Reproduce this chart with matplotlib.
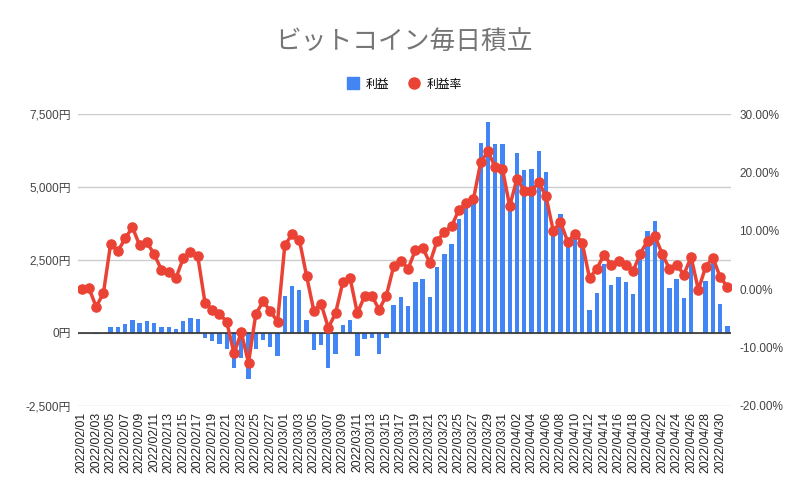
import numpy as np
import pandas as pd
import matplotlib
matplotlib.use('Agg')
import matplotlib.pyplot as plt
from matplotlib.lines import Line2D
from matplotlib.ticker import FuncFormatter

plt.rcParams['font.family'] = ['Liberation Sans', 'Noto Sans CJK JP', 'DejaVu Sans']

# 2022/02/01 から毎日
dates = pd.date_range('2022-02-01', periods=90, freq='D')
date_labels = [d.strftime('%Y/%m/%d') for d in dates]

# 利益 (円)
profit = [0, 0, -30, -10, 206, 206, 308, 445, 343, 411,
          343, 206, 206, 137, 411, 514, 480, -171, -274, -377,
          -548, -1199, -856, -1576, -548, -228, -480, -799, 1279, 1622,
          1485, 457, -594, -423, -1199, -719, 286, 457, -799, -206,
          -171, -719, -171, 971, 1233, 936, 1747, 1861, 1233, 2261,
          2707, 3049, 3906, 4283, 4600, 6509, 7229, 6475, 6475, 4500,
          6167, 5573, 5618, 6224, 5515, 3500, 4077, 2992, 3350, 2970,
          777, 1370, 2364, 1644, 1907, 1736, 1336, 2547, 3490, 3840,
          2650, 1540, 1855, 1195, 2500, 0, 1793, 2550, 1005, 240]

# 利益率 (%)
rate = [0.0, 0.2, -3.0, -0.7, 7.8, 6.5, 8.7, 10.6, 7.5, 8.0,
        6.0, 3.3, 3.0, 1.9, 5.3, 6.3, 5.7, -2.3, -3.5, -4.2,
        -5.6, -11.0, -7.4, -12.6, -4.3, -2.1, -3.7, -5.6, 7.5, 9.4,
        8.5, 2.3, -3.7, -2.5, -6.6, -4.1, 1.2, 1.9, -4.1, -1.2,
        -1.1, -3.5, -1.1, 3.9, 4.9, 3.5, 6.7, 7.1, 4.5, 8.3,
        9.8, 10.8, 13.6, 14.7, 15.4, 21.7, 23.6, 20.9, 20.6, 14.2,
        18.9, 16.9, 16.8, 18.3, 15.9, 10.0, 11.5, 8.1, 9.5, 7.9,
        1.9, 3.5, 5.9, 4.1, 4.8, 4.2, 3.1, 6.1, 8.3, 9.1,
        6.1, 3.5, 4.2, 2.5, 5.5, -0.1, 3.8, 5.4, 2.1, 0.4]

blue = '#4285F4'
red = '#EA4335'

fig = plt.figure(figsize=(8.09, 4.99), dpi=100)
ax = fig.add_axes([78 / 809, 1 - 406 / 499, (731 - 78) / 809, (406 - 114) / 499])
ax2 = ax.twinx()

x = np.arange(len(dates))
ax.bar(x, profit, width=0.6, color=blue, zorder=2)
ax2.plot(x, rate, color=red, lw=2.5, marker='o', ms=6.6, zorder=3)

ax.set_xlim(-0.5, len(dates) - 0.5)
ax.set_ylim(-2500, 7500)
ax.set_yticks([-2500, 0, 2500, 5000, 7500])
ax.yaxis.set_major_formatter(FuncFormatter(lambda v, p: '{:,.0f}円'.format(v)))
ax2.set_ylim(-20, 30)
ax2.set_yticks([-20, -10, 0, 10, 20, 30])
ax2.yaxis.set_major_formatter(FuncFormatter(lambda v, p: '{:.2f}%'.format(v)))

ax.grid(axis='y', color='#cccccc', lw=1, zorder=0)
ax.axhline(0, color='#333333', lw=1.2, zorder=2.5)
ax.set_xticks(x[::2])
ax.set_xticklabels(date_labels[::2], rotation=90, fontsize=8.7, color='#222222')

for a in (ax, ax2):
    for s in a.spines.values():
        s.set_visible(False)
ax.tick_params(axis='y', length=0, pad=5, labelsize=8.5, labelcolor='#444444')
ax2.tick_params(axis='y', length=0, pad=6, labelsize=8.5, labelcolor='#444444')
ax.tick_params(axis='x', length=0, pad=4)

fig.text(0.5, 1 - 43 / 499, 'ビットコイン毎日積立', ha='center', va='center',
         fontsize=18.5, color='#757575', family=['Noto Sans CJK JP', 'DejaVu Sans'])

handles = [Line2D([], [], ls='', marker='s', ms=8, color=blue),
           Line2D([], [], ls='', marker='o', ms=8, color=red)]
fig.legend(handles, ['利益', '利益率'], loc='center', bbox_to_anchor=(0.5, 1 - 84 / 499),
           ncol=2, frameon=False, handletextpad=0.6, columnspacing=1.6,
           handlelength=1.0, prop={'family': ['Noto Sans CJK JP', 'DejaVu Sans'], 'size': 8.5})

plt.savefig('out.png', dpi=100)
